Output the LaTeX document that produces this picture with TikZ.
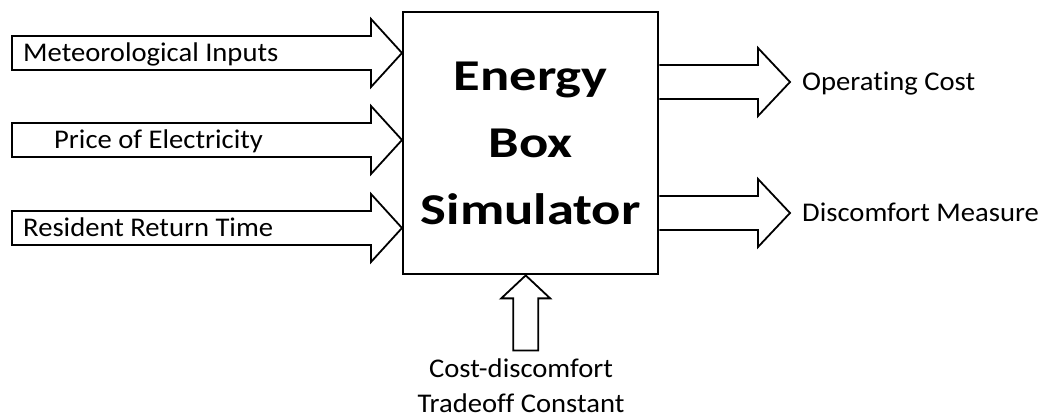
\documentclass[tikz,border=0pt]{standalone}
\usepackage{fontspec}
\setmainfont[Ligatures=NoCommon, FakeStretch=1.06]{Carlito}
\newfontfamily\titlefont[Ligatures=NoCommon, FakeStretch=1.24]{Carlito}
\usetikzlibrary{positioning,calc}
\begin{document}
\begin{tikzpicture}[x=1pt, y=-1pt, line join=miter]
	\def \bw{17};
	\def \hw{34};
	\def \hl{31};
	\tikzset{blk/.style={draw=black, line width=1.8pt, fill=white},
		lbl/.style={font=\fontsize{27}{35}\selectfont, inner sep=0pt}}
	\useasboundingbox (0,0) rectangle (1038,419);
	\node[draw, line width=2.4pt, minimum width=255pt, minimum height=262pt, anchor=north west, align=center, inner sep=0pt,
		font=\titlefont\bfseries\fontsize{44}{67}\selectfont] (sim) at (402,11) {Energy\\Box\\Simulator};
	% inputs
	\foreach \yy/\xx/\txt [count=\i] in {53/23/Meteorological Inputs, 140/54/Price of Electricity, 228/23/Resident Return Time}{
		\coordinate (tip\i) at (sim.west |- 0,\yy);
		\draw[blk] (12,\yy-\bw) -| ($(tip\i)+(-\hl,-\hw)$) -- (tip\i) -- ($(tip\i)+(-\hl,\hw)$) |- (12,\yy+\bw) -- cycle;
		\node[lbl, anchor=base west] (in\i) at (\xx,\yy+9) {\txt};
	}
	% outputs
	\foreach \yy/\txt [count=\i] in {82/Operating Cost, 213/Discomfort Measure}{
		\coordinate (src\i) at (sim.east |- 0,\yy);
		\draw[blk] ($(src\i)+(0,-\bw)$) -| (758,\yy-\hw) -- (790,\yy) -- (758,\yy+\hw) |- ($(src\i)+(0,\bw)$);
		\node[lbl, anchor=base west] (out\i) at (802,\yy+9) {\txt};
	}
	% tradeoff input
	\coordinate (tipc) at ($(sim.south)+(-5,0)$);
	\draw[blk] (tipc) -- ++(-24.5,23) -- ++(12,0) -- ++(0,52) -- ++(25,0) -- ++(0,-52) -- ++(12,0) -- cycle;
	\node[lbl, align=center, anchor=north] (trade) at (521,359) {Cost-discomfort\\Tradeoff Constant};
\end{tikzpicture}
\end{document}
